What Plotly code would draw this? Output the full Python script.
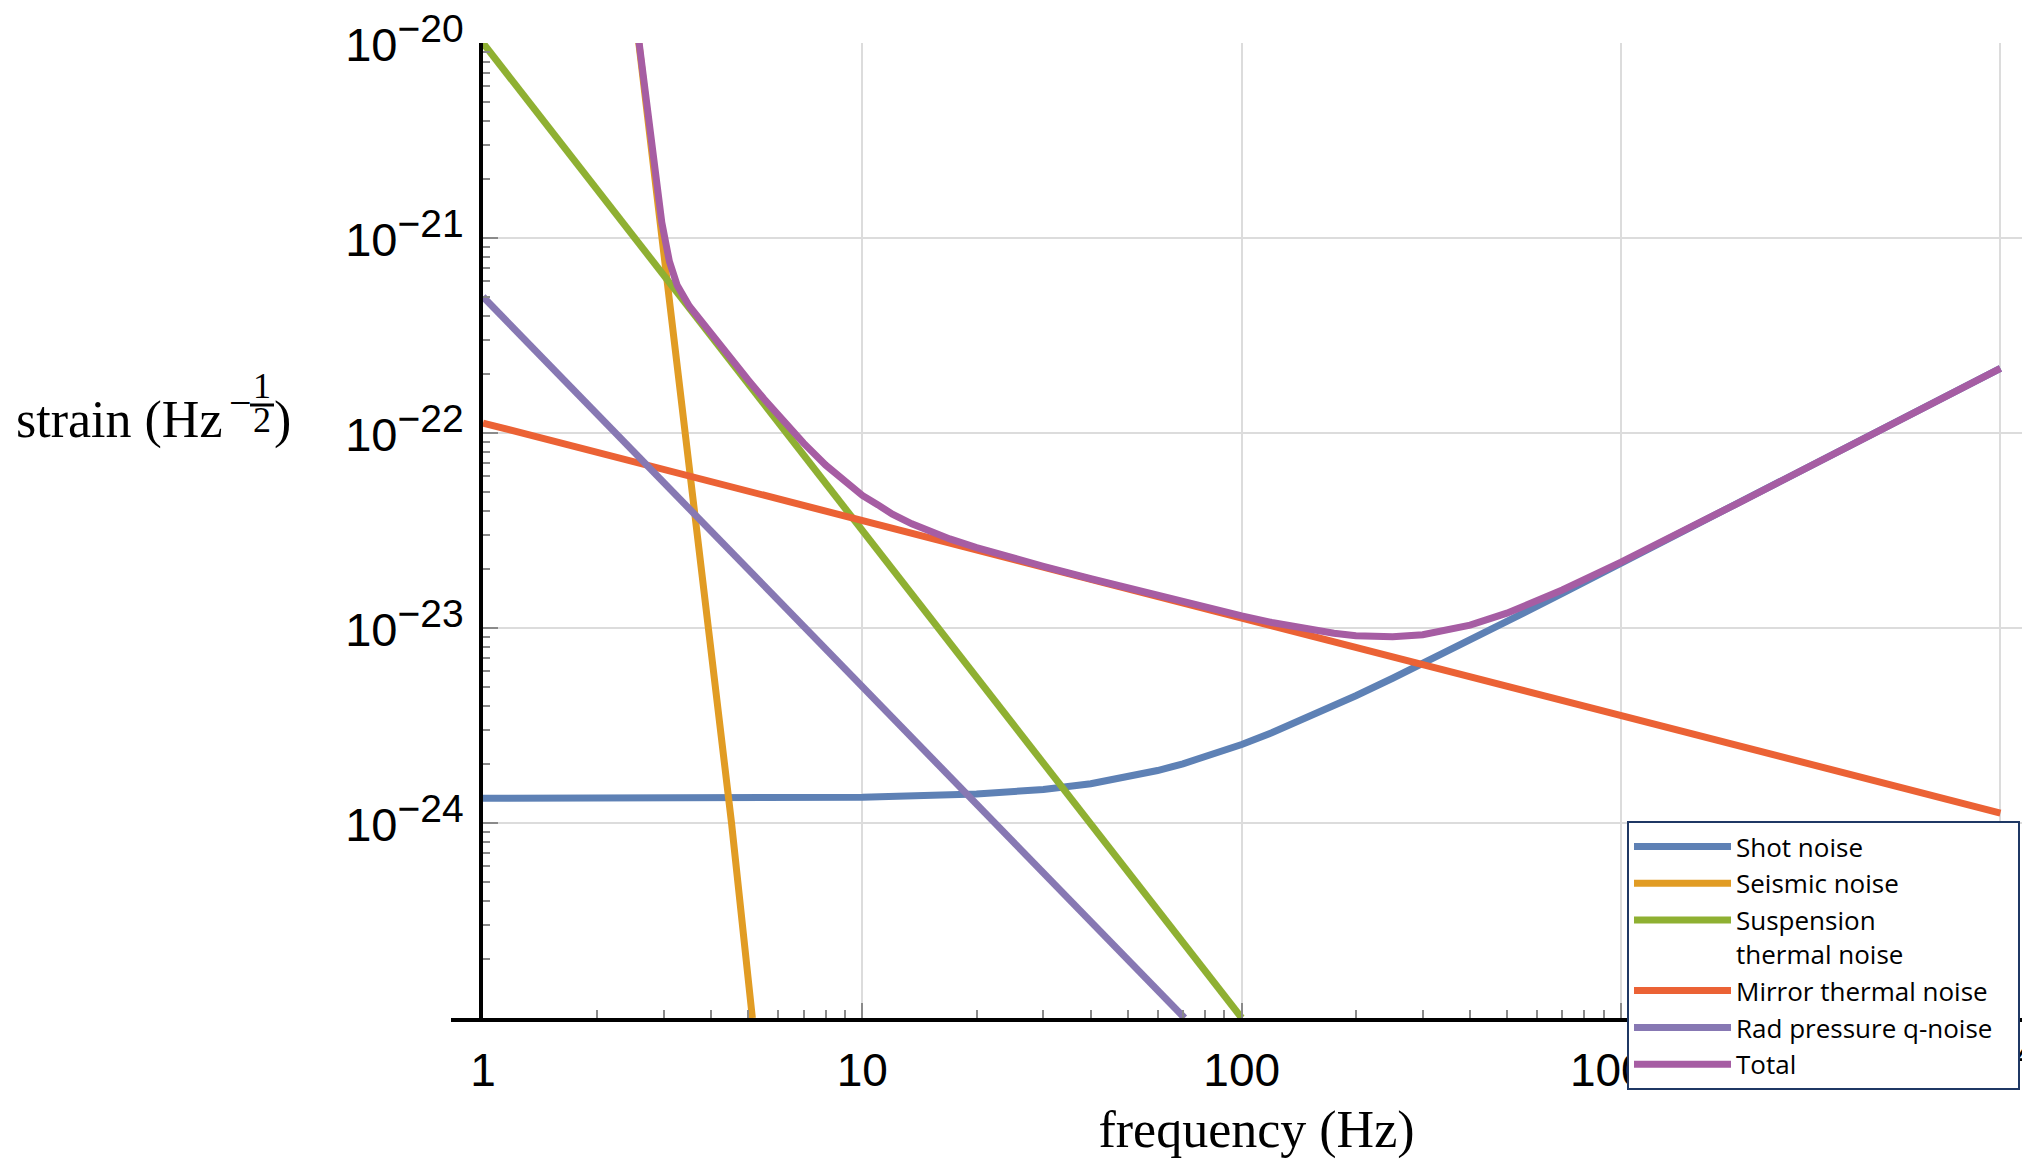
import plotly.graph_objects as go

# ---------------- data ----------------
freq_shot = [1, 10, 20, 30, 40, 50, 60, 70, 85, 100, 120, 150, 175, 200, 250, 300, 400, 500,
             700, 1000, 1500, 2000, 3000, 5000, 10000]
shot_noise = [1.34e-24, 1.357e-24, 1.407e-24, 1.486e-24, 1.591e-24, 1.716e-24, 1.858e-24,
              2.012e-24, 2.262e-24, 2.528e-24, 2.901e-24, 3.484e-24, 3.984e-24, 4.492e-24,
              5.525e-24, 6.570e-24, 8.68e-24, 1.080e-23, 1.507e-23, 2.148e-23, 3.219e-23,
              4.290e-23, 6.433e-23, 1.072e-22, 2.144e-22]

freq_seismic = [2.5, 2.96, 4.52, 5.13]
seismic_noise = [1.62e-20, 1.0e-21, 1.0e-24, 1.0e-25]

freq_susp = [1, 100]
susp_noise = [1.0e-20, 1.0e-25]

freq_mirror = [1, 10000]
mirror_noise = [1.125e-22, 1.125e-24]

freq_rad = [1, 70.7]
rad_noise = [5.0e-22, 1.0e-25]

freq_total = [2.5, 2.7, 2.85, 2.96, 3.1, 3.25, 3.5, 4, 4.5, 5, 5.5, 6, 7, 8, 9, 10, 11, 12,
              13.5, 15, 17, 20, 25, 30, 40, 50, 70, 100, 120, 150, 175, 200, 250, 300, 350,
              400, 500, 600, 700, 1000, 1500, 2000, 5000, 10000]
total_noise = [1.623e-20, 4.637e-21, 2.01e-21, 1.203e-21, 7.58e-22, 5.72e-22, 4.469e-22,
               3.191e-22, 2.400e-22, 1.869e-22, 1.498e-22, 1.231e-22, 8.868e-23, 6.851e-23,
               5.604e-23, 4.788e-23, 4.277e-23, 3.835e-23, 3.421e-23, 3.134e-23, 2.864e-23,
               2.584e-23, 2.279e-23, 2.070e-23, 1.789e-23, 1.601e-23, 1.360e-23, 1.153e-23,
               1.067e-23, 9.825e-24, 9.391e-24, 9.136e-24, 9.008e-24, 9.239e-24, 9.709e-24,
               1.034e-23, 1.191e-23, 1.3726e-23, 1.566e-23, 2.177e-23, 3.232e-23, 4.297e-23,
               1.0721e-22, 2.144e-22]

series_names = ["Shot noise", "Seismic noise", "Suspension<br>thermal noise",
                "Mirror thermal noise", "Rad pressure q-noise\u00a0\u00a0\u00a0", "Total"]
series_colors = ["#5E81B5", "#E19C24", "#8FB032", "#EB6235", "#8778B3", "#A65DA3"]

x_tick_vals = [1, 10, 100, 1000, 10000]
x_tick_text = ["1", "10", "100", "1000", "10<sup><span style='font-size:39px'>4</span></sup>"]
y_exponents = [20, 21, 22, 23, 24]
y_tick_vals = [10.0 ** (-e) for e in y_exponents]
y_tick_text = ["10<sup><span style='font-size:39px'>\u2212%d</span></sup>" % e for e in y_exponents]

# ---------------- figure ----------------
# the page adds an 8 px body margin, so the figure is 8 px smaller and all
# screen positions below are given in page pixels
OFF = 8
W, H = 2030 - OFF, 1159 - OFF
PLOT_L, PLOT_T, PLOT_B = 483, 43, 1018          # page pixels
PW, PH = 2030 - PLOT_L, PLOT_B - PLOT_T
ML, MT = PLOT_L - OFF, PLOT_T - OFF
MB = H - MT - PH
MR = W - ML - PW


def px(xp):
    return (xp - PLOT_L) / PW


def py(yp):
    return (PLOT_B - yp) / PH


fig = go.Figure()
xs = [freq_shot, freq_seismic, freq_susp, freq_mirror, freq_rad, freq_total]
ys = [shot_noise, seismic_noise, susp_noise, mirror_noise, rad_noise, total_noise]
for name, color, xv, yv in zip(series_names, series_colors, xs, ys):
    fig.add_trace(go.Scatter(x=xv, y=yv, mode="lines", name=name,
                             line=dict(color=color, width=7)))

minor_x = [k * 10 ** n for n in range(0, 4) for k in range(2, 10)]
minor_y = [k * 10.0 ** n for n in range(-25, -20) for k in range(2, 10)]

fig.update_xaxes(
    type="log", range=[0, 4.078], automargin=False,
    showline=True, linecolor="black", linewidth=4,
    showgrid=True, gridcolor="#dcdcdc", gridwidth=2,
    tickmode="array", tickvals=x_tick_vals, ticktext=x_tick_text,
    ticks="inside", ticklen=15, tickwidth=2, tickcolor="#8a8a8a",
    tickfont=dict(family="Liberation Sans", size=46, color="black"),
    ticklabelstandoff=9, ticklabeloverflow="allow",
    minor=dict(tickmode="array", tickvals=minor_x, ticks="inside", ticklen=8,
               tickwidth=2, tickcolor="#8a8a8a", showgrid=False),
    title=dict(text="frequency (Hz)", standoff=30,
               font=dict(family="Liberation Serif", size=52, color="black")),
    zeroline=False,
)
fig.update_yaxes(
    type="log", range=[-25, -20], automargin=False,
    showline=True, linecolor="black", linewidth=4,
    showgrid=True, gridcolor="#dcdcdc", gridwidth=2,
    tickmode="array", tickvals=y_tick_vals, ticktext=y_tick_text,
    ticks="inside", ticklen=15, tickwidth=2, tickcolor="#8a8a8a",
    tickfont=dict(family="Liberation Sans", size=47, color="black"),
    ticklabelstandoff=6, ticklabelshift=2, ticklabeloverflow="allow",
    minor=dict(tickmode="array", tickvals=minor_y, ticks="inside", ticklen=7,
               tickwidth=2, tickcolor="#8a8a8a", showgrid=False),
    zeroline=False,
)

serif = "Liberation Serif"
annotations = [
    dict(text="strain (Hz", x=px(224), y=py(420), xanchor="right", yanchor="middle",
         font=dict(family=serif, size=52, color="black")),
    dict(text="\u2212", x=px(240), y=py(402), xanchor="center", yanchor="middle",
         font=dict(family=serif, size=40, color="black")),
    dict(text="1", x=px(262), y=py(386), xanchor="center", yanchor="middle",
         font=dict(family=serif, size=36, color="black")),
    dict(text="2", x=px(262), y=py(420), xanchor="center", yanchor="middle",
         font=dict(family=serif, size=36, color="black")),
    dict(text=")", x=px(272), y=py(420), xanchor="left", yanchor="middle",
         font=dict(family=serif, size=52, color="black")),
]
for a in annotations:
    a.update(xref="paper", yref="paper", showarrow=False)

shapes = [
    # fraction bar of the exponent
    dict(type="line", xref="paper", yref="paper", x0=px(250), x1=px(274),
         y0=py(405), y1=py(405), line=dict(color="black", width=3)),
    # x-axis line continuing left of the y axis
    dict(type="line", xref="paper", yref="paper", x0=px(451), x1=0,
         y0=-2 / PH, y1=-2 / PH, line=dict(color="black", width=4)),
]

fig.update_layout(
    width=W, height=H,
    margin=dict(l=ML, r=MR, t=MT, b=MB, pad=0),
    paper_bgcolor="white", plot_bgcolor="white",
    showlegend=True,
    legend=dict(x=px(1627), y=py(821), xanchor="left", yanchor="top",
                bgcolor="white", bordercolor="#1F3864", borderwidth=2,
                font=dict(family="Open Sans", size=26, color="black"),
                itemwidth=97, valign="top", tracegroupgap=0),
    annotations=annotations,
    shapes=shapes,
)

fig.write_html("out.html")
